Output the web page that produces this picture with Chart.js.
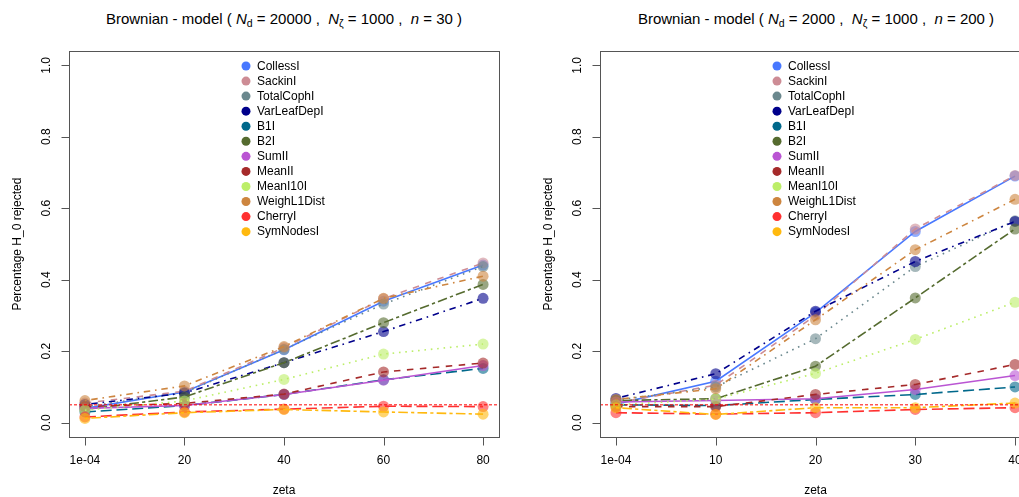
<!DOCTYPE html>
<html lang="en">
<head>
  <meta charset="UTF-8" />
  <title>Brownian model - power</title>
  <script src="https://cdn.jsdelivr.net/npm/chart.js"></script>
  <style>
    body {
      margin: 0;
      width: 1019px;
      height: 497px;
      overflow: hidden;
      background: #fff;
      font-family: "Liberation Sans", Arial, sans-serif;
      position: relative;
    }
    canvas {
      position: absolute;
      top: 0;
    }
    #leftChart { left: 0; }
    #rightChart { left: 510px; }
    .title {
      position: absolute;
      top: 10px;
      transform: translateX(-50%);
      white-space: nowrap;
      font-size: 15px;
      color: #000;
    }
    .title sub {
      font-size: 10.5px;
      vertical-align: -3px;
      line-height: 0;
    }
  </style>
</head>
<body>
  <div class="title" style="left:284px">Brownian - model ( <i>N</i><sub>d</sub> = 20000 ,&nbsp; <i>N</i><sub>ζ</sub> = 1000 ,&nbsp; <i>n</i> = 30 )</div>
  <div class="title" style="left:816px">Brownian - model ( <i>N</i><sub>d</sub> = 2000 ,&nbsp; <i>N</i><sub>ζ</sub> = 1000 ,&nbsp; <i>n</i> = 200 )</div>

  <canvas id="leftChart" width="510" height="497"></canvas>
  <canvas id="rightChart" width="540" height="497"></canvas>

  <script>
    const seriesNames = ['CollessI', 'SackinI', 'TotalCophI', 'VarLeafDepI', 'B1I', 'B2I',
      'SumII', 'MeanII', 'MeanI10I', 'WeighL1Dist', 'CherryI', 'SymNodesI'];
    const seriesColors = ['#4878FF', '#CD8C95', '#6B888E', '#00008B', '#00688B', '#556B2F',
      '#BA55D3', '#A52A2A', '#BCEE68', '#CD853F', '#FF3030', '#FFB90F'];
    // R lty 1..6, repeated
    const seriesDash = [[], [6.5, 6.5], [1.6, 4.8], [1.6, 4.8, 6.5, 4.8], [11, 4.8], [3.2, 3.2, 9.6, 3.2],
      [], [6.5, 6.5], [1.6, 4.8], [1.6, 4.8, 6.5, 4.8], [11, 4.8], [3.2, 3.2, 9.6, 3.2]];

    const alphaLevel = 0.05;
    const yTicks = [0, 0.2, 0.4, 0.6, 0.8, 1.0];
    const yTickLabels = ['0.0', '0.2', '0.4', '0.6', '0.8', '1.0'];

    // left panel: Nd = 20000, n = 30
    const zetaLeft = [0.0001, 20, 40, 60, 80];
    const zetaLeftLabels = ['1e-04', '20', '40', '60', '80'];
    const leftCollessI    = [0.040, 0.086, 0.204, 0.340, 0.441];
    const leftSackinI     = [0.055, 0.088, 0.210, 0.347, 0.447];
    const leftTotalCophI  = [0.045, 0.084, 0.205, 0.332, 0.437];
    const leftVarLeafDepI = [0.051, 0.083, 0.168, 0.255, 0.348];
    const leftB1I         = [0.030, 0.048, 0.079, 0.120, 0.152];
    const leftB2I         = [0.037, 0.072, 0.168, 0.280, 0.387];
    const leftSumII       = [0.040, 0.048, 0.079, 0.119, 0.160];
    const leftMeanII      = [0.045, 0.054, 0.080, 0.142, 0.167];
    const leftMeanI10I    = [0.035, 0.061, 0.121, 0.192, 0.220];
    const leftWeighL1Dist = [0.062, 0.103, 0.213, 0.348, 0.410];
    const leftCherryI     = [0.016, 0.030, 0.038, 0.046, 0.045];
    const leftSymNodesI   = [0.012, 0.028, 0.037, 0.030, 0.024];

    // right panel: Nd = 2000, n = 200
    const zetaRight = [0.0001, 10, 20, 30, 40];
    const zetaRightLabels = ['1e-04', '10', '20', '30', '40'];
    const rightCollessI    = [0.052, 0.116, 0.308, 0.535, 0.690];
    const rightSackinI     = [0.055, 0.105, 0.300, 0.542, 0.692];
    const rightTotalCophI  = [0.063, 0.100, 0.235, 0.437, 0.565];
    const rightVarLeafDepI = [0.068, 0.137, 0.312, 0.451, 0.563];
    const rightB1I         = [0.050, 0.048, 0.065, 0.079, 0.100];
    const rightB2I         = [0.062, 0.067, 0.158, 0.349, 0.542];
    const rightSumII       = [0.058, 0.062, 0.067, 0.093, 0.132];
    const rightMeanII      = [0.045, 0.045, 0.079, 0.107, 0.163];
    const rightMeanI10I    = [0.050, 0.066, 0.138, 0.233, 0.337];
    const rightWeighL1Dist = [0.065, 0.095, 0.288, 0.484, 0.625];
    const rightCherryI     = [0.028, 0.024, 0.028, 0.037, 0.042];
    const rightSymNodesI   = [0.042, 0.023, 0.042, 0.042, 0.055];

    const leftSeries = [leftCollessI, leftSackinI, leftTotalCophI, leftVarLeafDepI, leftB1I, leftB2I,
      leftSumII, leftMeanII, leftMeanI10I, leftWeighL1Dist, leftCherryI, leftSymNodesI];
    const rightSeries = [rightCollessI, rightSackinI, rightTotalCophI, rightVarLeafDepI, rightB1I, rightB2I,
      rightSumII, rightMeanII, rightMeanI10I, rightWeighL1Dist, rightCherryI, rightSymNodesI];

    const FONT = '"Liberation Sans", Arial, sans-serif';

    function withAlpha(hex, a) {
      const n = parseInt(hex.slice(1), 16);
      return `rgba(${n >> 16},${(n >> 8) & 255},${n & 255},${a})`;
    }

    // R-like box, axes, labels and legend
    const rStyle = {
      id: 'rStyle',
      afterDraw(chart, args, opts) {
        const { ctx, chartArea: a, scales: { x, y } } = chart;
        ctx.save();
        ctx.strokeStyle = '#555';
        ctx.lineWidth = 1;
        ctx.strokeRect(Math.round(a.left) + 0.5, Math.round(a.top) + 0.5,
          Math.round(a.right - a.left), Math.round(a.bottom - a.top));

        ctx.fillStyle = '#000';
        ctx.font = '12px ' + FONT;

        // x axis
        const bx = Math.round(a.bottom) + 0.5;
        ctx.beginPath();
        opts.xTicks.forEach((v, i) => {
          const px = Math.round(x.getPixelForValue(v)) + 0.5;
          ctx.moveTo(px, bx);
          ctx.lineTo(px, bx + 8);
        });
        ctx.stroke();
        ctx.textAlign = 'center';
        ctx.textBaseline = 'middle';
        opts.xTicks.forEach((v, i) => {
          ctx.fillText(opts.xLabels[i], x.getPixelForValue(v), bx + 23);
        });
        ctx.fillText('zeta', (a.left + a.right) / 2, bx + 53);

        // y axis
        const lx = Math.round(a.left) + 0.5;
        ctx.beginPath();
        yTicks.forEach(v => {
          const py = Math.round(y.getPixelForValue(v)) + 0.5;
          ctx.moveTo(lx, py);
          ctx.lineTo(lx - 8, py);
        });
        ctx.stroke();
        yTicks.forEach((v, i) => {
          ctx.save();
          ctx.translate(a.left - 22, y.getPixelForValue(v));
          ctx.rotate(-Math.PI / 2);
          ctx.fillText(yTickLabels[i], 0, 0);
          ctx.restore();
        });
        ctx.save();
        ctx.translate(a.left - 51, (a.top + a.bottom) / 2);
        ctx.rotate(-Math.PI / 2);
        ctx.fillText('Percentage H_0 rejected', 0, 0);
        ctx.restore();

        // legend
        ctx.textAlign = 'left';
        seriesNames.forEach((name, i) => {
          const ly = a.top + 15 + i * 15.06;
          ctx.fillStyle = seriesColors[i];
          ctx.beginPath();
          ctx.arc(a.left + 177, ly, 4.5, 0, Math.PI * 2);
          ctx.fill();
          ctx.fillStyle = '#000';
          ctx.fillText(name, a.left + 188, ly + 0.5);
        });
        ctx.restore();
      }
    };

    function makeChart(id, zeta, zetaLabels, series, xMax, padRight) {
      const pad = xMax * 0.04;
      const datasets = series.map((vals, i) => ({
        label: seriesNames[i],
        data: zeta.map((z, k) => ({ x: z, y: vals[k] })),
        borderColor: seriesColors[i],
        backgroundColor: withAlpha(seriesColors[i], 0.6),
        borderWidth: 1.6,
        borderDash: seriesDash[i],
        pointRadius: 5.5,
        pointBorderWidth: 0,
        pointBorderColor: 'rgba(0,0,0,0)',
        tension: 0,
        order: -i
      }));
      datasets.push({
        label: 'H0 level',
        data: [{ x: -pad, y: alphaLevel }, { x: xMax + pad, y: alphaLevel }],
        borderColor: '#FF0000',
        borderWidth: 1,
        borderDash: [3, 2],
        pointRadius: 0,
        order: -100
      });

      return new Chart(document.getElementById(id), {
        type: 'line',
        data: { datasets },
        options: {
          responsive: false,
          animation: false,
          events: [],
          layout: { padding: { left: id === 'leftChart' ? 69 : 90, top: 51, right: padRight, bottom: 60 } },
          scales: {
            x: { type: 'linear', display: false, min: -pad, max: xMax + pad },
            y: { type: 'linear', display: false, min: -0.04, max: 1.04 }
          },
          plugins: {
            legend: { display: false },
            tooltip: { enabled: false },
            rStyle: { xTicks: zeta, xLabels: zetaLabels }
          }
        },
        plugins: [rStyle]
      });
    }

    makeChart('leftChart', zetaLeft, zetaLeftLabels, leftSeries, 80, 11);
    makeChart('rightChart', zetaRight, zetaRightLabels, rightSeries, 40, 19);
  </script>
</body>
</html>
